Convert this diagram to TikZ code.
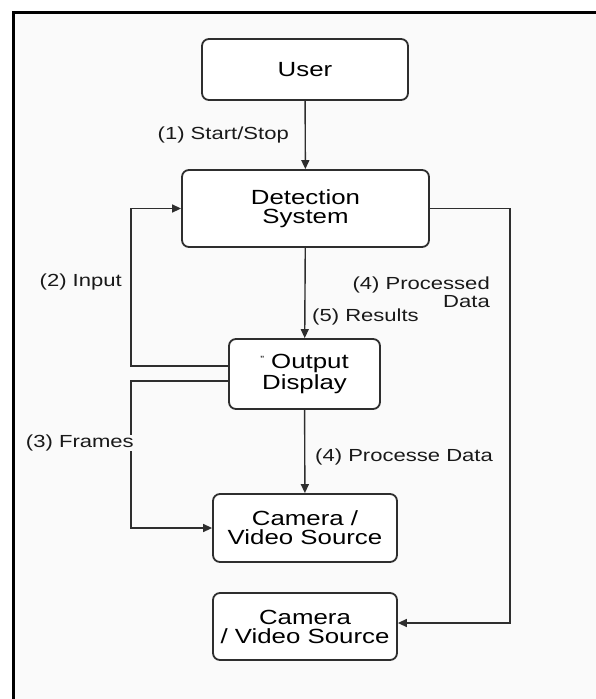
\documentclass[tikz,border=0pt]{standalone}
\usepackage{fontspec}
\setmainfont{Liberation Sans}[FakeStretch=1.26]
\usetikzlibrary{arrows.meta}
\definecolor{ink}{HTML}{2E2E2E}
\definecolor{paper}{HTML}{FAFAFA}

\begin{document}
\begin{tikzpicture}[x = 1pt, y = -1pt,
  box/.style = {draw = ink, line width = 1.8pt, rounded corners = 7pt, fill = white,
    align = center, inner sep = 0pt, font = \fontsize{20.5}{19}\selectfont},
  lbl/.style = {inner sep = 0pt, text = black!90, font = \fontsize{17.5}{18}\selectfont},
  arr/.style = {-{Triangle[length = 9pt, width = 8pt]}, line width = 1.4pt, color = ink}]
\useasboundingbox (0, 0) rectangle (596, 699);
\fill[white] (0, 0) rectangle (596, 699);
\fill[paper] (13, 12) rectangle (596, 699);
\draw[line width = 3pt] (13, 699) -- (13, 12) -- (596, 12);
% boxes
\node (user) [box, minimum width = 206pt, minimum height = 61pt] at (305, 69.5) {User};
\node (detect) [box, minimum width = 247pt, minimum height = 77pt] at (305.5, 208.5) {Detection\\System};
\node (output) [box, minimum width = 151pt, minimum height = 70pt] at (304.5, 374)
  {\raisebox{6pt}{\fontsize{9}{9}\selectfont "} Output\\Display};
\node (cam1) [box, minimum width = 184pt, minimum height = 68pt] at (305, 528) {Camera /\\Video Source};
\node (cam2) [box, minimum width = 184pt, minimum height = 67pt] at (305, 626.5) {Camera\\/ Video Source};
% connectors
\draw[arr] (user) -- (detect);
\draw[arr] (detect) -- (output);
\draw[arr] (output) -- (cam1);
\draw[arr] ([yshift = 8pt]output.west) -- ++(-97, 0) |- (detect.west);
\draw[arr] ([yshift = -7pt]output.west) -- ++(-97, 0) |- (cam1.west);
\draw[arr] (detect.east) -- ++(80, 0) |- ([yshift = 3.5pt]cam2.east);
% labels
\node (startlbl) [lbl, anchor = east] at (289, 135) {(1) Start/Stop};
\node (inputlbl) [lbl, anchor = east] at (122, 282) {(2) Input};
\node (proclbl) [lbl, anchor = east, align = right] at (490, 292) {(4) Processed\\Data};
\node (reslbl) [lbl, anchor = west] at (312, 317) {(5) Results};
\node (framelbl) [lbl, anchor = east, fill = paper] at (134, 443) {(3) Frames};
\node (proc2lbl) [lbl, anchor = west] at (315, 457) {(4) Processe Data};
\end{tikzpicture}
\end{document}
